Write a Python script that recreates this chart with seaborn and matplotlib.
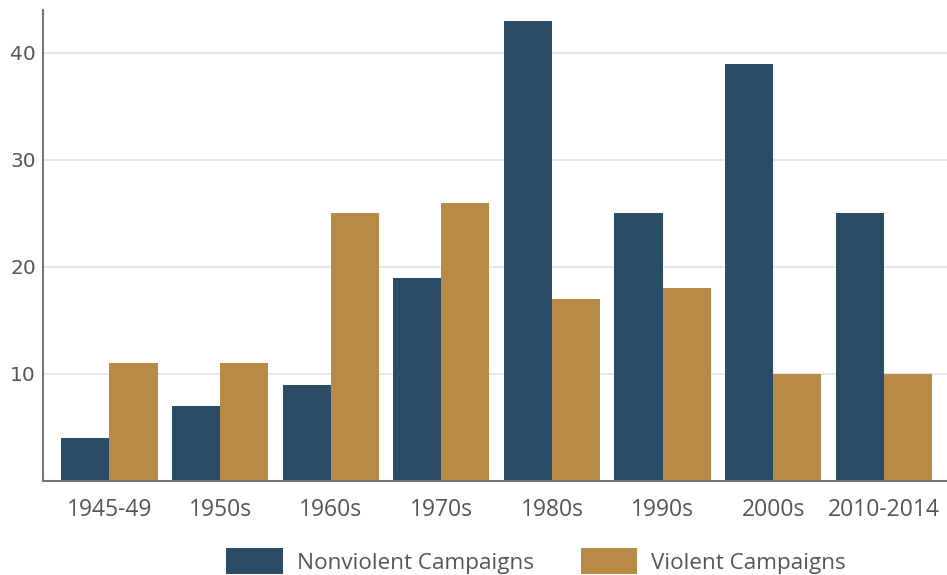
import pandas as pd
import numpy as np
import seaborn as sns
import matplotlib.pyplot as plt

decades = ["1945-49", "1950s", "1960s", "1970s", "1980s", "1990s", "2000s", "2010-2014"]
nonviolent = [4, 7, 9, 19, 43, 25, 39, 25]
violent = [11, 11, 25, 26, 17, 18, 10, 10]

df = pd.DataFrame({
    "Decade": decades * 2,
    "Count": nonviolent + violent,
    "Type": ["Nonviolent Campaigns"] * len(decades) + ["Violent Campaigns"] * len(decades),
})

sns.set_style("white")
plt.rcParams['font.family'] = ['DejaVu Sans']
fig = plt.figure(figsize=(9.47, 5.75), dpi=100)
ax = fig.add_axes([0.0454, 0.1635, 0.9546, 0.8191])

ax = sns.barplot(data=df, x="Decade", y="Count", hue="Type",
                 palette=["#2b4c66", "#b78b47"], width=0.87, saturation=1,
                 linewidth=0, ax=ax)

ax.set_ylim(0, 44)
ax.set_xlim(-0.6, 7.57)
ax.set_yticks([10, 20, 30, 40])
ax.yaxis.grid(True, color="#e3e3e3", linewidth=1.2)
ax.set_axisbelow(True)
ax.set_xlabel("")
ax.set_ylabel("")
sns.despine(ax=ax, top=True, right=True)
for s in ["left", "bottom"]:
    ax.spines[s].set_color("#777777")
    ax.spines[s].set_linewidth(1.5)

ax.tick_params(axis="y", length=0, labelsize=14.5, labelcolor="#555555", pad=5)
ax.tick_params(axis="x", length=0, labelsize=16.5, labelcolor="#555555", pad=12)
for lbl in ax.get_xticklabels():
    lbl.set_fontfamily("Open Sans")

ax.legend_.remove()
handles, labels = ax.get_legend_handles_labels()
fig.legend(handles, labels, loc="center", bbox_to_anchor=(0.566, 0.024), ncol=2,
           frameon=False, handlelength=2.5, handleheight=1.4, columnspacing=2.1,
           handletextpad=0.62, prop={"family": "Open Sans", "size": 16.2},
           labelcolor="#555555")

fig.savefig("out.png", dpi=100)
